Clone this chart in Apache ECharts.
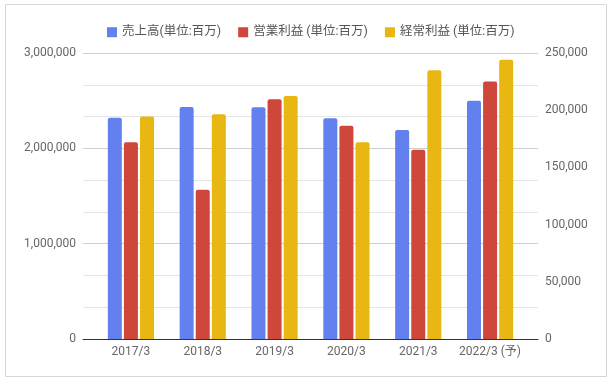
<!DOCTYPE html>
<html>
<head>
<meta charset="utf-8">
<script src="https://cdn.jsdelivr.net/npm/echarts@6/dist/echarts.min.js"></script>
<style>
html,body{margin:0;padding:0;background:#fff;}
#c{width:612px;height:381px;}
</style>
</head>
<body>
<div id="c"></div>
<script>
const categories = ['2017/3', '2018/3', '2019/3', '2020/3', '2021/3', '2022/3 (予)'];
const seriesNames = ['売上高(単位:百万)', '営業利益 (単位:百万)', '経常利益 (単位:百万)'];
const sales = [2322000, 2433000, 2431000, 2315000, 2192000, 2500000];
const operatingProfit = [172000, 130500, 209500, 186500, 165500, 225000];
const ordinaryProfit = [194500, 196500, 212500, 172000, 235000, 244000];
const leftTicks = [0, 1000000, 2000000, 3000000];
const rightTicks = [0, 50000, 100000, 150000, 200000, 250000];

const colors = ['#6380ef', '#cf463b', '#e8b711'];
const font = 'Roboto, "Noto Sans CJK JP", sans-serif';
const fmt = v => v.toLocaleString('en-US');

const chart = echarts.init(document.getElementById('c'), null, {renderer: 'canvas'});
const barCommon = {
  barWidth: 14,
  barGap: '15%',
  itemStyle: {borderRadius: [2, 2, 0, 0]}
};
chart.setOption({
  animation: false,
  color: colors,
  textStyle: {fontFamily: font},
  graphic: [{
    type: 'rect',
    shape: {x: 5.5, y: 4.5, width: 601, height: 372},
    style: {fill: 'none', stroke: '#d6d6d6', lineWidth: 1},
    silent: true
  }],
  legend: {
    top: 21,
    left: 102,
    itemWidth: 10,
    itemHeight: 10,
    itemGap: 17,
    icon: 'rect',
    textStyle: {fontSize: 12.5, color: '#555', fontFamily: font},
    data: seriesNames
  },
  grid: [
    {left: 83, right: 74, top: 53, bottom: 42},
    {left: 95, right: 86, top: 53, bottom: 42}
  ],
  xAxis: [
    {
      gridIndex: 0, type: 'category', data: categories,
      axisLine: {show: true, lineStyle: {color: '#333', width: 1}},
      axisTick: {show: false}, axisLabel: {show: false}, splitLine: {show: false}
    },
    {
      gridIndex: 1, type: 'category', data: categories,
      axisLine: {show: false}, axisTick: {show: false},
      axisLabel: {show: true, color: '#666', fontSize: 12, margin: 7, fontFamily: font, interval: 0}
    }
  ],
  yAxis: [
    {
      gridIndex: 0, type: 'value', position: 'left',
      min: leftTicks[0], max: leftTicks[leftTicks.length - 1], interval: leftTicks[1] - leftTicks[0],
      axisLine: {show: false}, axisTick: {show: false},
      axisLabel: {color: '#666', fontSize: 12, margin: 7, fontFamily: font, formatter: fmt},
      splitLine: {show: true, lineStyle: {color: '#cfcfcf', width: 1}},
      minorTick: {show: false, splitNumber: 3},
      minorSplitLine: {show: true, lineStyle: {color: '#e6e6e6', width: 1}}
    },
    {
      gridIndex: 0, type: 'value', position: 'right',
      min: rightTicks[0], max: rightTicks[rightTicks.length - 1], interval: rightTicks[1] - rightTicks[0],
      axisLine: {show: false}, axisTick: {show: false},
      axisLabel: {color: '#666', fontSize: 12, margin: 7, fontFamily: font, formatter: fmt},
      splitLine: {show: false}
    },
    {
      gridIndex: 1, type: 'value', show: false,
      min: leftTicks[0], max: leftTicks[leftTicks.length - 1]
    },
    {
      gridIndex: 1, type: 'value', show: false,
      min: rightTicks[0], max: rightTicks[rightTicks.length - 1]
    }
  ],
  series: [
    Object.assign({type: 'bar', name: seriesNames[0], data: sales, xAxisIndex: 1, yAxisIndex: 2}, barCommon),
    Object.assign({type: 'bar', name: seriesNames[1], data: operatingProfit, xAxisIndex: 1, yAxisIndex: 3}, barCommon),
    Object.assign({type: 'bar', name: seriesNames[2], data: ordinaryProfit, xAxisIndex: 1, yAxisIndex: 3}, barCommon)
  ]
});
</script>
</body>
</html>
